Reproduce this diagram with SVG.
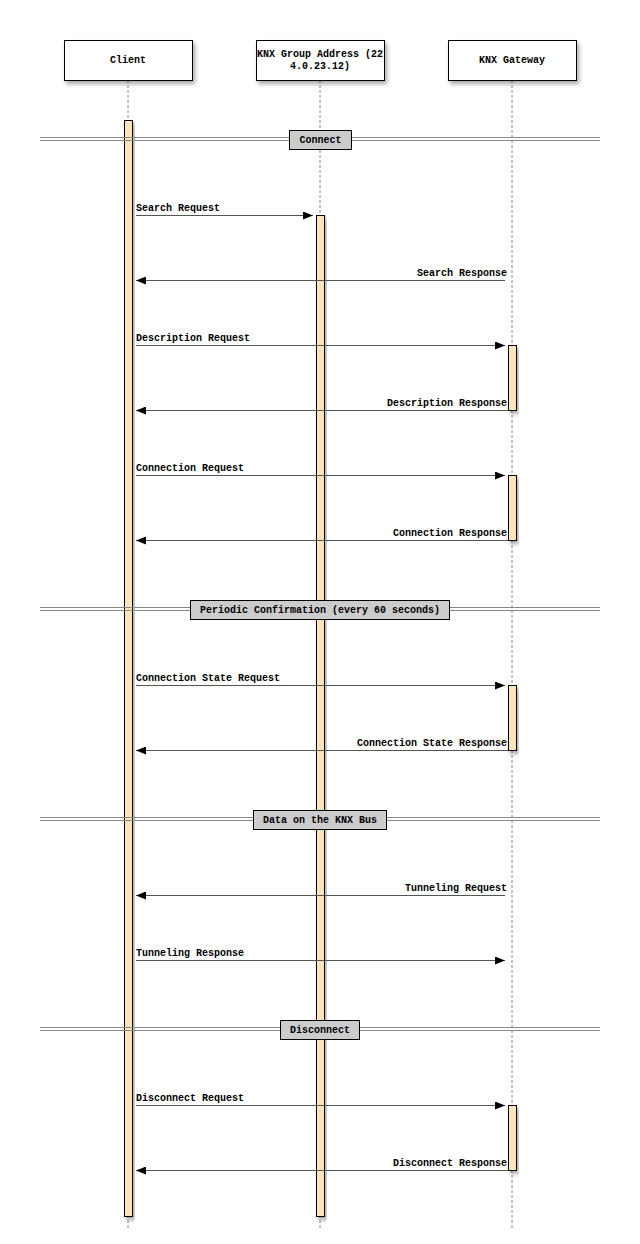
<svg xmlns="http://www.w3.org/2000/svg" width="640" height="1244" viewBox="0 0 640 1244">
<defs>
<style>
text{font-family:"Liberation Mono","DejaVu Sans Mono",monospace;font-size:10px;font-weight:bold;fill:#000}
.actor{fill:#fff;stroke:#000;stroke-width:1}
.life{stroke:#888;stroke-width:1;stroke-dasharray:3,2;fill:none}
.act{fill:#ffe4b5;stroke:#000;stroke-width:1}
.msg{stroke:#555;stroke-width:1;fill:none;marker-end:url(#ah)}
.dl{stroke:#888;stroke-width:1}
.dbox{fill:#ccc;stroke:#000;stroke-width:1}
</style>
<marker id="ah" markerUnits="userSpaceOnUse" markerWidth="10" markerHeight="8" refX="10" refY="4" orient="auto">
<path d="M0,0 L10,4 L0,8 z" fill="#000"/>
</marker>
<filter id="sh" x="-20%" y="-20%" width="150%" height="160%">
<feDropShadow dx="2" dy="3" stdDeviation="2" flood-color="#000" flood-opacity="0.35"/>
</filter>
</defs>
<g id="lifelines">
<line class="life" x1="128" y1="80" x2="128" y2="1230"/>
<line class="life" x1="320" y1="80" x2="320" y2="1230"/>
<line class="life" x1="512" y1="80" x2="512" y2="1230"/>
</g>
<g id="actor-client">
<rect class="actor" x="64.5" y="40.5" width="128" height="40" filter="url(#sh)"/>
<text x="128" y="63" text-anchor="middle">Client</text>
</g>
<g id="actor-group">
<rect class="actor" x="256.5" y="40.5" width="128" height="40" filter="url(#sh)"/>
<text x="320" y="57" text-anchor="middle">KNX Group Address (22</text>
<text x="320" y="69" text-anchor="middle">4.0.23.12)</text>
</g>
<g id="actor-gateway">
<rect class="actor" x="448.5" y="40.5" width="128" height="40" filter="url(#sh)"/>
<text x="512" y="63" text-anchor="middle">KNX Gateway</text>
</g>
<g id="activations">
<rect class="act" x="124.5" y="120.5" width="8" height="1096" filter="url(#sh)"/>
<rect class="act" x="316.5" y="215.5" width="8" height="1001" filter="url(#sh)"/>
<rect class="act" x="508.5" y="345.5" width="8" height="65" filter="url(#sh)"/>
<rect class="act" x="508.5" y="475.5" width="8" height="65" filter="url(#sh)"/>
<rect class="act" x="508.5" y="685.5" width="8" height="65" filter="url(#sh)"/>
<rect class="act" x="508.5" y="1105.5" width="8" height="65" filter="url(#sh)"/>
</g>
<g id="dividers">
<g id="div-connect">
<line class="dl" x1="40" y1="137.5" x2="600" y2="137.5"/>
<line class="dl" x1="40" y1="140.5" x2="600" y2="140.5"/>
<rect class="dbox" x="289.5" y="130.5" width="62" height="19"/>
<text x="320.5" y="143" text-anchor="middle">Connect</text>
</g>
<g id="div-periodic">
<line class="dl" x1="40" y1="607.5" x2="600" y2="607.5"/>
<line class="dl" x1="40" y1="610.5" x2="600" y2="610.5"/>
<rect class="dbox" x="190.5" y="600.5" width="259" height="19"/>
<text x="320" y="613" text-anchor="middle">Periodic Confirmation (every 60 seconds)</text>
</g>
<g id="div-data">
<line class="dl" x1="40" y1="817.5" x2="600" y2="817.5"/>
<line class="dl" x1="40" y1="820.5" x2="600" y2="820.5"/>
<rect class="dbox" x="253.5" y="810.5" width="133" height="19"/>
<text x="320" y="823" text-anchor="middle">Data on the KNX Bus</text>
</g>
<g id="div-disconnect">
<line class="dl" x1="40" y1="1027.5" x2="600" y2="1027.5"/>
<line class="dl" x1="40" y1="1030.5" x2="600" y2="1030.5"/>
<rect class="dbox" x="280.5" y="1020.5" width="79" height="19"/>
<text x="320" y="1033" text-anchor="middle">Disconnect</text>
</g>
</g>
<g id="connectors">
<line class="msg" x1="136" y1="215.5" x2="313" y2="215.5"/>
<text x="136" y="211">Search Request</text>
<line class="msg" x1="505" y1="280.5" x2="136" y2="280.5"/>
<text x="507" y="276" text-anchor="end">Search Response</text>
<line class="msg" x1="136" y1="345.5" x2="505" y2="345.5"/>
<text x="136" y="341">Description Request</text>
<line class="msg" x1="508" y1="410.5" x2="136" y2="410.5"/>
<text x="507" y="406" text-anchor="end">Description Response</text>
<line class="msg" x1="136" y1="475.5" x2="505" y2="475.5"/>
<text x="136" y="471">Connection Request</text>
<line class="msg" x1="508" y1="540.5" x2="136" y2="540.5"/>
<text x="507" y="536" text-anchor="end">Connection Response</text>
<line class="msg" x1="136" y1="685.5" x2="505" y2="685.5"/>
<text x="136" y="681">Connection State Request</text>
<line class="msg" x1="508" y1="750.5" x2="136" y2="750.5"/>
<text x="507" y="746" text-anchor="end">Connection State Response</text>
<line class="msg" x1="505" y1="895.5" x2="136" y2="895.5"/>
<text x="507" y="891" text-anchor="end">Tunneling Request</text>
<line class="msg" x1="136" y1="960.5" x2="505" y2="960.5"/>
<text x="136" y="956">Tunneling Response</text>
<line class="msg" x1="136" y1="1105.5" x2="505" y2="1105.5"/>
<text x="136" y="1101">Disconnect Request</text>
<line class="msg" x1="508" y1="1170.5" x2="136" y2="1170.5"/>
<text x="507" y="1166" text-anchor="end">Disconnect Response</text>
</g>
</svg>
